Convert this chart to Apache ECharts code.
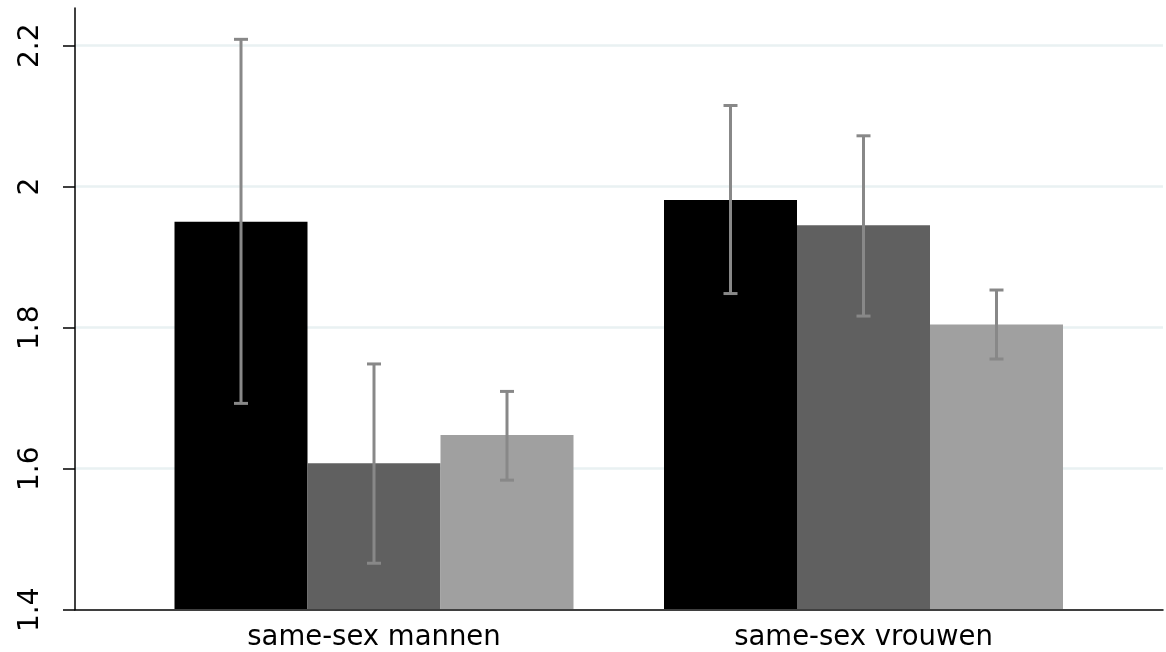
<!DOCTYPE html>
<html>
<head>
<meta charset="utf-8">
<script src="https://cdn.jsdelivr.net/npm/echarts@6/dist/echarts.min.js"></script>
<style>html,body{margin:0;padding:0;background:#fff;}#c{width:1166px;height:652px;}</style>
</head>
<body>
<div id="c"></div>
<script>
const categories = ['same-sex mannen', 'same-sex vrouwen'];
const meanA = [1.950, 1.981];
const meanB = [1.607, 1.945];
const meanC = [1.647, 1.804];
const lowA = [1.692, 1.848];
const highA = [2.209, 2.115];
const lowB = [1.465, 1.816];
const highB = [1.748, 2.072];
const lowC = [1.583, 1.755];
const highC = [1.709, 1.853];
const yTicks = [1.4, 1.6, 1.8, 2.0, 2.2];

const yMin = 1.4, yTickMax = 2.2, yMax = 2.2535;
const barW = 133;
const FONT = 'DejaVu Sans';
const colors = ['#000000', '#606060', '#a0a0a0'];

function errData(lo, hi) {
  return categories.map((c, i) => [i, lo[i], hi[i]]);
}
function errSeries(lo, hi, k) {
  return {
    type: 'custom', xAxisIndex: 2, yAxisIndex: 2, z: 5,
    data: errData(lo, hi),
    renderItem: function (params, api) {
      const off = (k - 1) * barW;
      const p1 = api.coord([api.value(0), api.value(1)]);
      const p2 = api.coord([api.value(0), api.value(2)]);
      const x = p1[0] + off, cap = 7;
      const st = { stroke: '#888888', lineWidth: 3 };
      return { type: 'group', children: [
        { type: 'line', shape: { x1: x, y1: p1[1], x2: x, y2: p2[1] }, style: st },
        { type: 'line', shape: { x1: x - cap, y1: p1[1], x2: x + cap, y2: p1[1] }, style: st },
        { type: 'line', shape: { x1: x - cap, y1: p2[1], x2: x + cap, y2: p2[1] }, style: st }
      ]};
    }
  };
}
function barSeries(vals, k) {
  return {
    type: 'bar', xAxisIndex: 2, yAxisIndex: 2, data: vals, barWidth: barW, barGap: '0%',
    itemStyle: { color: colors[k] }, clip: true, silent: true
  };
}

const chart = echarts.init(document.getElementById('c'), null, { renderer: 'canvas' });
chart.setOption({
  animation: false,
  backgroundColor: '#ffffff',
  textStyle: { fontFamily: FONT },
  grid: [
    { left: 75, right: 3, top: 8, bottom: 42.3 },
    { left: 75, right: 3, top: 45.7, bottom: 42.3 },
    { left: 129.25, right: 57.75, top: 8, bottom: 42.3 }
  ],
  xAxis: [
    { gridIndex: 0, type: 'value', min: 0, max: 1, axisLine: { show: true, lineStyle: { color: '#000', width: 1.5 } },
      axisTick: { show: false }, axisLabel: { show: false }, splitLine: { show: false } },
    { gridIndex: 1, type: 'value', min: 0, max: 1, show: false },
    { gridIndex: 2, type: 'category', data: categories,
      axisLine: { show: false }, axisTick: { show: false },
      axisLabel: { color: '#000', fontSize: 27.5, fontFamily: FONT, margin: 15 } }
  ],
  yAxis: [
    { gridIndex: 0, type: 'value', min: yMin, max: yMax,
      axisLine: { show: true, lineStyle: { color: '#000', width: 1.5 } },
      axisTick: { show: false }, axisLabel: { show: false }, splitLine: { show: false } },
    { gridIndex: 1, type: 'value', min: yMin, max: yTickMax, interval: 0.2,
      axisLine: { show: false },
      axisTick: { show: true, length: 12, lineStyle: { color: '#000', width: 1.5 } },
      axisLabel: { color: '#000', fontSize: 28, fontFamily: FONT, rotate: 90, margin: 30,
        formatter: v => { const t = yTicks.find(x => Math.abs(x - v) < 1e-6); return t === undefined ? '' : String(+t.toFixed(1)); } },
      splitLine: { show: true, showMinLine: false, lineStyle: { color: '#e9f1f2', width: 2.5 } } },
    { gridIndex: 2, type: 'value', min: yMin, max: yMax, show: false }
  ],
  series: [
    barSeries(meanA, 0), barSeries(meanB, 1), barSeries(meanC, 2),
    errSeries(lowA, highA, 0), errSeries(lowB, highB, 1), errSeries(lowC, highC, 2)
  ]
});
</script>
</body>
</html>
